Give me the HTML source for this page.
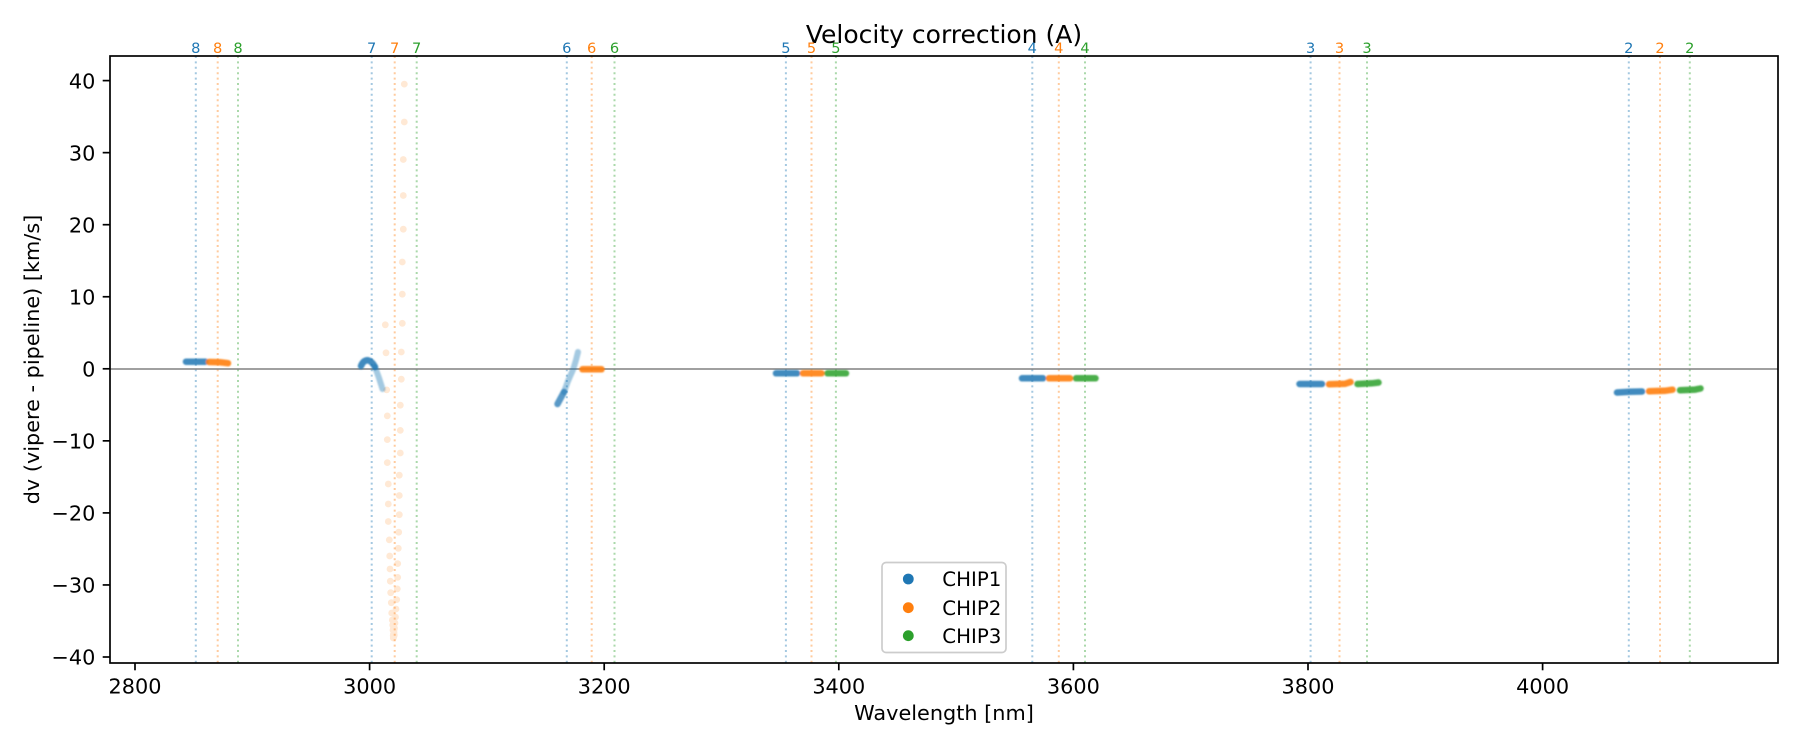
<!DOCTYPE html>
<html>
<head>
<meta charset="utf-8">
<style>
html,body{margin:0;padding:0;background:#fff;}
svg{display:block;}
text{font-family:"DejaVu Sans","Liberation Sans",sans-serif;}
</style>
</head>
<body>
<svg width="1800" height="750" viewBox="0 0 1800 750" xmlns="http://www.w3.org/2000/svg">
<rect x="0" y="0" width="1800" height="750" fill="#fff"/>
<defs>
<filter id="soft" x="-10%" y="-50%" width="120%" height="200%"><feGaussianBlur stdDeviation="0.7"/></filter>
<clipPath id="ax"><rect x="110" y="56" width="1668" height="607"/></clipPath>
</defs>

<!-- title -->
<text x="944" y="43" font-size="25" text-anchor="middle" fill="#000">Velocity correction (A)</text>

<g clip-path="url(#ax)">
<!-- vertical dotted order lines -->
<g stroke-width="2" stroke-dasharray="2 3.4" opacity="0.4">
<line x1="195.8" y1="56" x2="195.8" y2="663" stroke="#1f77b4"/>
<line x1="217.7" y1="56" x2="217.7" y2="663" stroke="#ff7f0e"/>
<line x1="238" y1="56" x2="238" y2="663" stroke="#2ca02c"/>
<line x1="371.7" y1="56" x2="371.7" y2="663" stroke="#1f77b4"/>
<line x1="394.7" y1="56" x2="394.7" y2="663" stroke="#ff7f0e"/>
<line x1="416.7" y1="56" x2="416.7" y2="663" stroke="#2ca02c"/>
<line x1="566.8" y1="56" x2="566.8" y2="663" stroke="#1f77b4"/>
<line x1="591.7" y1="56" x2="591.7" y2="663" stroke="#ff7f0e"/>
<line x1="614.5" y1="56" x2="614.5" y2="663" stroke="#2ca02c"/>
<line x1="785.9" y1="56" x2="785.9" y2="663" stroke="#1f77b4"/>
<line x1="811.5" y1="56" x2="811.5" y2="663" stroke="#ff7f0e"/>
<line x1="835.9" y1="56" x2="835.9" y2="663" stroke="#2ca02c"/>
<line x1="1032.3" y1="56" x2="1032.3" y2="663" stroke="#1f77b4"/>
<line x1="1058.8" y1="56" x2="1058.8" y2="663" stroke="#ff7f0e"/>
<line x1="1085" y1="56" x2="1085" y2="663" stroke="#2ca02c"/>
<line x1="1310.6" y1="56" x2="1310.6" y2="663" stroke="#1f77b4"/>
<line x1="1339.5" y1="56" x2="1339.5" y2="663" stroke="#ff7f0e"/>
<line x1="1367" y1="56" x2="1367" y2="663" stroke="#2ca02c"/>
<line x1="1628.8" y1="56" x2="1628.8" y2="663" stroke="#1f77b4"/>
<line x1="1660" y1="56" x2="1660" y2="663" stroke="#ff7f0e"/>
<line x1="1689.8" y1="56" x2="1689.8" y2="663" stroke="#2ca02c"/>
</g>

<!-- zero line -->
<line x1="110" y1="369" x2="1778" y2="369" stroke="#808080" stroke-width="1.5"/>

<!-- orange scatter (order 7, CHIP2) -->
<g fill="#ff7f0e" opacity="0.17">
<circle cx="404.3" cy="84.1" r="3.4"/><circle cx="404.3" cy="122" r="3.4"/>
<circle cx="403.3" cy="159.5" r="3.4"/><circle cx="403.3" cy="195.5" r="3.4"/>
<circle cx="403.3" cy="229.2" r="3.4"/><circle cx="402.3" cy="262" r="3.4"/>
<circle cx="402.3" cy="294.2" r="3.4"/><circle cx="402.3" cy="323.3" r="3.4"/>
<circle cx="401.3" cy="352" r="3.4"/><circle cx="401.3" cy="379.2" r="3.4"/>
<circle cx="400.3" cy="405.2" r="3.4"/><circle cx="400.3" cy="430.4" r="3.4"/>
<circle cx="400.3" cy="453" r="3.4"/><circle cx="399.3" cy="475.2" r="3.4"/>
<circle cx="399.3" cy="495.5" r="3.4"/><circle cx="399.3" cy="514.7" r="3.4"/>
<circle cx="398.7" cy="532.2" r="3.4"/><circle cx="398.3" cy="548.3" r="3.4"/>
<circle cx="397.7" cy="563.6" r="3.4"/><circle cx="397.7" cy="577.4" r="3.4"/>
<circle cx="397.3" cy="588.9" r="3.4"/><circle cx="396.7" cy="599.6" r="3.4"/>
<circle cx="396" cy="609" r="3.4"/><circle cx="395.5" cy="617" r="3.4"/>
<circle cx="395" cy="623" r="3.4"/><circle cx="394.5" cy="628" r="3.4"/>
<circle cx="385.3" cy="324.8" r="3.4"/><circle cx="386" cy="352.8" r="3.4"/>
<circle cx="386.7" cy="389.9" r="3.4"/><circle cx="387.3" cy="415.9" r="3.4"/>
<circle cx="387.3" cy="439.6" r="3.4"/><circle cx="387.3" cy="462.6" r="3.4"/>
<circle cx="388.3" cy="484" r="3.4"/><circle cx="388.3" cy="504" r="3.4"/>
<circle cx="388.3" cy="521.5" r="3.4"/><circle cx="389.3" cy="539.9" r="3.4"/>
<circle cx="389.7" cy="556" r="3.4"/><circle cx="390" cy="569" r="3.4"/>
<circle cx="390.3" cy="581.2" r="3.4"/><circle cx="390.7" cy="592.7" r="3.4"/>
<circle cx="391.3" cy="602.7" r="3.4"/><circle cx="391.7" cy="613" r="3.4"/>
<circle cx="392.3" cy="620" r="3.4"/><circle cx="392.7" cy="625" r="3.4"/>
<circle cx="393.5" cy="628" r="3.4"/><circle cx="393.7" cy="631" r="3.4"/>
<circle cx="393.5" cy="634" r="3.4"/><circle cx="394" cy="636" r="3.4"/>
<circle cx="393.3" cy="638" r="3.4"/><circle cx="394" cy="632" r="3.4"/>
<circle cx="393" cy="630" r="3.4"/><circle cx="394.3" cy="635" r="3.4"/>
<circle cx="393.6" cy="637" r="3.4"/><circle cx="393.8" cy="633" r="3.4"/>
<circle cx="393.2" cy="635.5" r="3.4"/><circle cx="394.1" cy="629.5" r="3.4"/>
</g>

<g filter="url(#soft)" stroke-linecap="round" fill="none">
<!-- order 8 -->
<line x1="186" y1="361.7" x2="205.5" y2="361.7" stroke="#1f77b4" stroke-width="6.5" opacity="0.85"/>
<polyline points="209,362 220,362.3 228,363.2" stroke="#ff7f0e" stroke-width="6.5" opacity="0.9"/>
<!-- order 7 blue curve -->
<path d="M361,366 Q363.5,360 368,360.3 Q372,361 375,367" stroke="#1f77b4" stroke-width="6.5" opacity="0.85"/>
<path d="M375,367 L379,378 L382.5,389" stroke="#1f77b4" stroke-width="6" opacity="0.4"/>
<!-- order 6 -->
<path d="M557.5,404 L564,392" stroke="#1f77b4" stroke-width="6.5" opacity="0.75"/>
<path d="M564,392 L568,381 L573.3,369 L576,360 L578,352" stroke="#1f77b4" stroke-width="6" opacity="0.4"/>
<line x1="582.5" y1="369.3" x2="601.5" y2="369.3" stroke="#ff7f0e" stroke-width="6.5" opacity="0.9"/>
<!-- order 5 -->
<line x1="776" y1="373.3" x2="797" y2="373.3" stroke="#1f77b4" stroke-width="6.5" opacity="0.85"/>
<line x1="803" y1="373.3" x2="821.5" y2="373.3" stroke="#ff7f0e" stroke-width="6.5" opacity="0.9"/>
<line x1="827.5" y1="373.3" x2="846" y2="373.3" stroke="#2ca02c" stroke-width="6.5" opacity="0.85"/>
<!-- order 4 -->
<line x1="1022" y1="378.3" x2="1043" y2="378.3" stroke="#1f77b4" stroke-width="6.5" opacity="0.85"/>
<line x1="1049" y1="378.3" x2="1070" y2="378.3" stroke="#ff7f0e" stroke-width="6.5" opacity="0.9"/>
<line x1="1076" y1="378.3" x2="1095.5" y2="378.3" stroke="#2ca02c" stroke-width="6.5" opacity="0.85"/>
<!-- order 3 -->
<line x1="1299.5" y1="384" x2="1322" y2="384" stroke="#1f77b4" stroke-width="6.5" opacity="0.85"/>
<polyline points="1329,384.3 1345,383.8 1350.5,382" stroke="#ff7f0e" stroke-width="6.5" opacity="0.9"/>
<polyline points="1357.5,384 1372,383.3 1378.5,382.5" stroke="#2ca02c" stroke-width="6.5" opacity="0.85"/>
<!-- order 2 -->
<polyline points="1617,392.5 1630,391.7 1642,391.5" stroke="#1f77b4" stroke-width="6.5" opacity="0.85"/>
<polyline points="1649,391.3 1665,390.8 1672.5,389.7" stroke="#ff7f0e" stroke-width="6.5" opacity="0.9"/>
<polyline points="1680,390.2 1695,389.6 1700.5,388.5" stroke="#2ca02c" stroke-width="6.5" opacity="0.85"/>
</g>
</g>

<!-- order labels on top -->
<g font-size="14.6" text-anchor="middle">
<text x="195.8" y="53" fill="#1f77b4">8</text>
<text x="217.7" y="53" fill="#ff7f0e">8</text>
<text x="238" y="53" fill="#2ca02c">8</text>
<text x="371.7" y="53" fill="#1f77b4">7</text>
<text x="394.7" y="53" fill="#ff7f0e">7</text>
<text x="416.7" y="53" fill="#2ca02c">7</text>
<text x="566.8" y="53" fill="#1f77b4">6</text>
<text x="591.7" y="53" fill="#ff7f0e">6</text>
<text x="614.5" y="53" fill="#2ca02c">6</text>
<text x="785.9" y="53" fill="#1f77b4">5</text>
<text x="811.5" y="53" fill="#ff7f0e">5</text>
<text x="835.9" y="53" fill="#2ca02c">5</text>
<text x="1032.3" y="53" fill="#1f77b4">4</text>
<text x="1058.8" y="53" fill="#ff7f0e">4</text>
<text x="1085" y="53" fill="#2ca02c">4</text>
<text x="1310.6" y="53" fill="#1f77b4">3</text>
<text x="1339.5" y="53" fill="#ff7f0e">3</text>
<text x="1367" y="53" fill="#2ca02c">3</text>
<text x="1628.8" y="53" fill="#1f77b4">2</text>
<text x="1660" y="53" fill="#ff7f0e">2</text>
<text x="1689.8" y="53" fill="#2ca02c">2</text>
</g>

<!-- axes frame -->
<rect x="110" y="56" width="1668" height="607" fill="none" stroke="#000" stroke-width="1.7"/>

<!-- y ticks -->
<g stroke="#000" stroke-width="1.7">
<line x1="102.7" y1="80.6" x2="110" y2="80.6"/>
<line x1="102.7" y1="152.65" x2="110" y2="152.65"/>
<line x1="102.7" y1="224.7" x2="110" y2="224.7"/>
<line x1="102.7" y1="296.75" x2="110" y2="296.75"/>
<line x1="102.7" y1="368.8" x2="110" y2="368.8"/>
<line x1="102.7" y1="440.85" x2="110" y2="440.85"/>
<line x1="102.7" y1="512.9" x2="110" y2="512.9"/>
<line x1="102.7" y1="584.95" x2="110" y2="584.95"/>
<line x1="102.7" y1="657" x2="110" y2="657"/>
</g>
<g font-size="20.8" text-anchor="end" fill="#000">
<text x="95.4" y="88.3">40</text>
<text x="95.4" y="160.4">30</text>
<text x="95.4" y="232.4">20</text>
<text x="95.4" y="304.5">10</text>
<text x="95.4" y="376.5">0</text>
<text x="95.4" y="448.6">−10</text>
<text x="95.4" y="520.6">−20</text>
<text x="95.4" y="592.7">−30</text>
<text x="95.4" y="664.7">−40</text>
</g>

<!-- x ticks -->
<g stroke="#000" stroke-width="1.7">
<line x1="135" y1="663" x2="135" y2="670.3"/>
<line x1="369.6" y1="663" x2="369.6" y2="670.3"/>
<line x1="604.2" y1="663" x2="604.2" y2="670.3"/>
<line x1="838.8" y1="663" x2="838.8" y2="670.3"/>
<line x1="1073.4" y1="663" x2="1073.4" y2="670.3"/>
<line x1="1308" y1="663" x2="1308" y2="670.3"/>
<line x1="1542.6" y1="663" x2="1542.6" y2="670.3"/>
</g>
<g font-size="20.8" text-anchor="middle" fill="#000">
<text x="135" y="693.3">2800</text>
<text x="369.6" y="693.3">3000</text>
<text x="604.2" y="693.3">3200</text>
<text x="838.8" y="693.3">3400</text>
<text x="1073.4" y="693.3">3600</text>
<text x="1308" y="693.3">3800</text>
<text x="1542.6" y="693.3">4000</text>
</g>

<!-- axis labels -->
<text x="944" y="720" font-size="20.8" text-anchor="middle" fill="#000">Wavelength [nm]</text>
<text transform="translate(39,359.5) rotate(-90)" font-size="20.8" text-anchor="middle" fill="#000">dv (vipere - pipeline) [km/s]</text>

<!-- legend -->
<rect x="882" y="562.5" width="124" height="90" rx="4" ry="4" fill="#fff" fill-opacity="0.8" stroke="#cccccc" stroke-width="1.7"/>
<circle cx="908.3" cy="579" r="5.4" fill="#1f77b4"/>
<circle cx="908.3" cy="607.7" r="5.4" fill="#ff7f0e"/>
<circle cx="908.3" cy="635.7" r="5.4" fill="#2ca02c"/>
<g font-size="19.8" fill="#000">
<text x="942.3" y="586.2">CHIP1</text>
<text x="942.3" y="614.9">CHIP2</text>
<text x="942.3" y="642.9">CHIP3</text>
</g>
</svg>
</body>
</html>
